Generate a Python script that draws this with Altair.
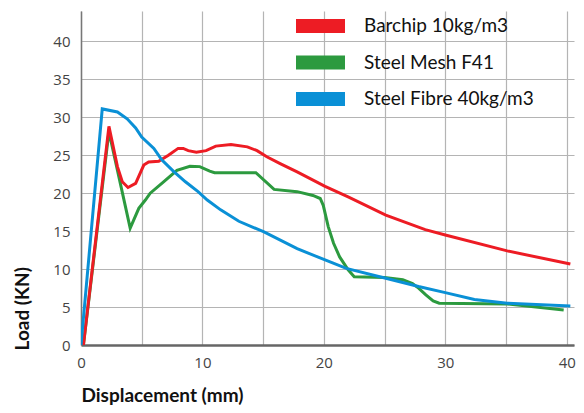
import altair as alt
import pandas as pd

series_names = ["Barchip 10kg/m3", "Steel Mesh F41", "Steel Fibre 40kg/m3"]
series_colors = ["#ED1C24", "#2C9A3F", "#0A90D6"]

barchip_x = [0.2, 2.3, 3.0, 3.4, 3.87, 4.5, 5.17, 5.57, 6.4, 7.2, 8.0, 8.42, 8.83, 9.5, 10.3, 11.1, 12.35, 13.7, 14.5, 15.3, 16.4, 17.8, 20.1, 22.0, 25.1, 28.35, 30.0, 35.1, 40.3]
barchip_y = [0.0, 28.8, 23.5, 21.5, 20.75, 21.3, 23.7, 24.1, 24.2, 25.0, 25.9, 25.9, 25.6, 25.4, 25.6, 26.2, 26.4, 26.1, 25.6, 24.8, 23.9, 22.8, 20.9, 19.5, 17.1, 15.2, 14.5, 12.4, 10.66]

mesh_x = [0.2, 2.3, 4.05, 4.76, 5.3, 5.7, 6.8, 7.9, 8.97, 9.78, 10.6, 11.0, 14.4, 15.9, 17.8, 19.1, 19.7, 19.95, 20.36, 20.8, 21.3, 22.0, 22.5, 25.0, 26.5, 27.3, 27.8, 28.4, 29.0, 29.5, 35.1, 39.75]
mesh_y = [0.0, 28.1, 15.4, 18.0, 19.1, 20.0, 21.5, 23.0, 23.55, 23.5, 22.9, 22.7, 22.7, 20.5, 20.2, 19.7, 19.3, 18.4, 15.6, 13.4, 11.6, 9.9, 9.0, 8.9, 8.6, 8.1, 7.5, 6.6, 5.8, 5.5, 5.4, 4.6]

fibre_x = [0.0, 1.75, 3.0, 3.8, 4.5, 5.0, 6.0, 6.65, 7.6, 8.6, 9.64, 10.4, 11.5, 13.0, 15.07, 17.8, 20.1, 21.85, 25.1, 27.8, 30.0, 32.4, 35.1, 40.3]
fibre_y = [0.0, 31.1, 30.7, 29.8, 28.6, 27.4, 25.9, 24.4, 22.9, 21.5, 20.2, 19.1, 17.8, 16.3, 14.9, 12.7, 11.2, 10.1, 8.8, 7.7, 6.9, 6.0, 5.5, 5.13]

x_grid_values = [0, 5, 10, 15, 20, 25, 30, 35, 40]
y_grid_values = [0, 5, 10, 15, 20, 25, 30, 35, 40]

rows = []
# drawing order: mesh below, then barchip, then fibre on top
for name, xs, ys in [
    (series_names[1], mesh_x, mesh_y),
    (series_names[0], barchip_x, barchip_y),
    (series_names[2], fibre_x, fibre_y),
]:
    for i, (xv, yv) in enumerate(zip(xs, ys)):
        rows.append({"series": name, "order": i, "disp": xv, "load": yv})
df = pd.DataFrame(rows)

legend_shape = "M-2,0H2"

chart = alt.Chart(df).mark_line(strokeWidth=3, interpolate="linear", clip=True).encode(
    x=alt.X(
        "disp:Q",
        scale=alt.Scale(domain=[0, 40.6], nice=False, zero=False),
        axis=alt.Axis(
            values=x_grid_values,
            labelExpr="datum.value % 10 == 0 ? datum.label : ''",
            title="Displacement (mm)",
            titleX=0,
            titleY=56,
            titleAlign="left",
            titleBaseline="alphabetic",
            titleFont="Lato",
            titleFontSize=19,
            titleFontWeight="bold",
            titleColor="#111111",
            labelFont="Open Sans",
            labelFontSize=15,
            labelColor="#444444",
            labelPadding=10,
            labelFlush=False,
            ticks=False,
            domainColor="#666666",
            domainWidth=2.5,
            gridColor="#b4b4b4",
            gridWidth=1.2,
        ),
    ),
    y=alt.Y(
        "load:Q",
        scale=alt.Scale(domain=[0, 44], nice=False, zero=False),
        axis=alt.Axis(
            values=y_grid_values,
            title="Load (KN)",
            titleX=-68,
            titleY=339,
            titleAngle=270,
            titleAlign="left",
            titleBaseline="top",
            titleFont="Lato",
            titleFontSize=19,
            titleFontWeight="bold",
            titleColor="#111111",
            labelFont="Open Sans",
            labelFontSize=15,
            labelColor="#444444",
            labelPadding=11,
            ticks=False,
            domainColor="#777777",
            domainWidth=1.5,
            gridColor="#b4b4b4",
            gridWidth=1.2,
        ),
    ),
    color=alt.Color(
        "series:N",
        scale=alt.Scale(domain=series_names, range=series_colors),
        legend=alt.Legend(
            title=None,
            orient="none",
            legendX=215,
            legendY=-3,
            symbolType=legend_shape,
            symbolSize=784,
            symbolStrokeWidth=14,
            symbolOpacity=1,
            labelFont="Lato",
            labelFontSize=19,
            labelColor="#111111",
            labelOffset=26,
            labelLimit=400,
            clipHeight=36,
            rowPadding=0.5,
            padding=0,
        ),
    ),
    order="order:Q",
).properties(
    width=493,
    height=334,
    padding={"left": 5, "top": 0, "right": 0, "bottom": 0},
).configure_view(stroke=None)

chart.save("out.html", embed_options={"renderer": "svg", "actions": False})
